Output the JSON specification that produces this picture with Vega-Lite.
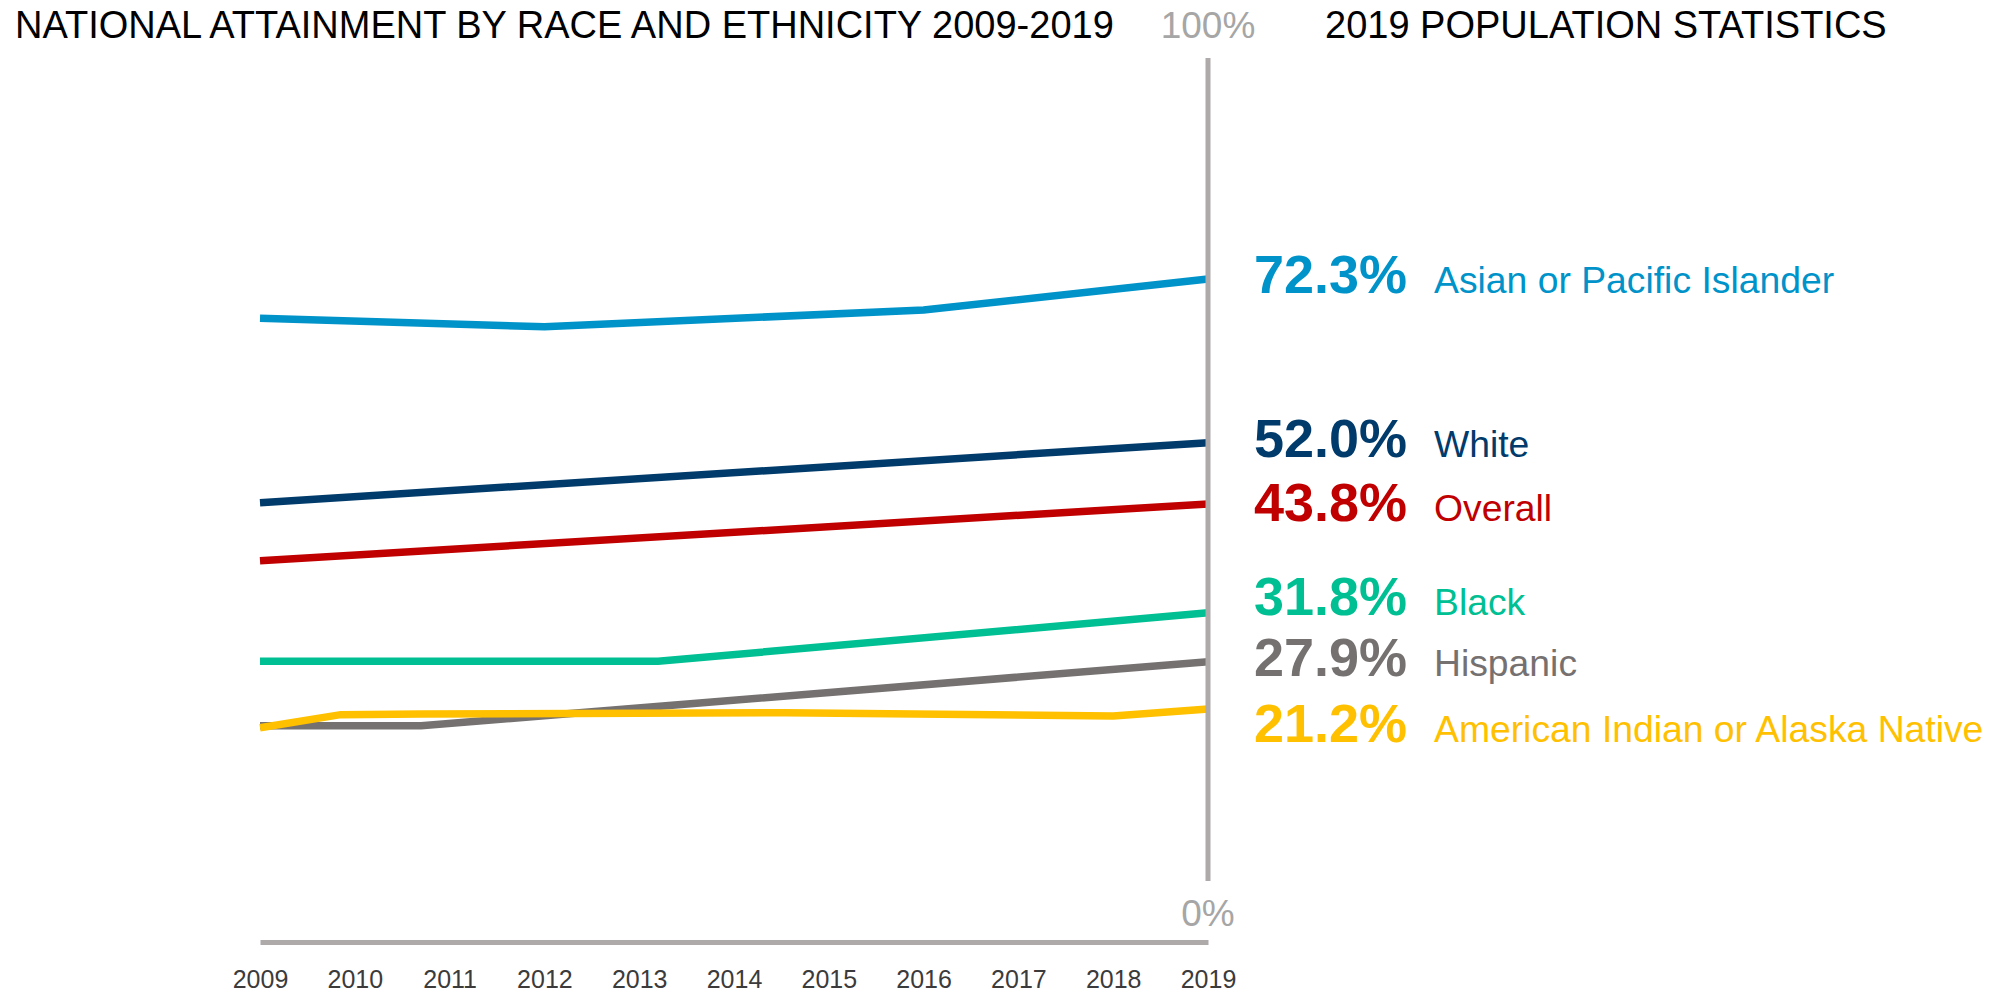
{
  "$schema": "https://vega.github.io/schema/vega-lite/v6.json",
  "width": 948,
  "height": 823,
  "autosize": {"type": "none"},
  "padding": {"left": 260, "top": 58, "right": 789, "bottom": 112},
  "background": "white",
  "config": {
    "view": {"stroke": null},
    "font": "Liberation Sans",
    "axisX": {
      "grid": false, "ticks": false, "tickSize": 0,
      "domainColor": "#AEAAAA", "domainWidth": 5, "offset": 61,
      "labelPadding": 25.5, "labelFontSize": 25, "labelColor": "#3B3B3B",
      "labelFont": "Liberation Sans", "labelFlush": false, "labelOverlap": false
    }
  },
  "datasets": {
    "lines": [
      {"series": "Asian or Pacific Islander", "year": 2009, "pct": 68.37},
      {"series": "Asian or Pacific Islander", "year": 2012, "pct": 67.35},
      {"series": "Asian or Pacific Islander", "year": 2016, "pct": 69.38},
      {"series": "Asian or Pacific Islander", "year": 2019, "pct": 73.15},
      {"series": "White", "year": 2009, "pct": 45.97},
      {"series": "White", "year": 2019, "pct": 53.26},
      {"series": "Overall", "year": 2009, "pct": 38.92},
      {"series": "Overall", "year": 2019, "pct": 45.81},
      {"series": "Black", "year": 2009, "pct": 26.7},
      {"series": "Black", "year": 2013.2, "pct": 26.7},
      {"series": "Black", "year": 2019, "pct": 32.6},
      {"series": "Hispanic", "year": 2009, "pct": 18.87},
      {"series": "Hispanic", "year": 2010.7, "pct": 18.87},
      {"series": "Hispanic", "year": 2019, "pct": 26.65},
      {"series": "American Indian or Alaska Native", "year": 2009, "pct": 18.63},
      {"series": "American Indian or Alaska Native", "year": 2009.85, "pct": 20.21},
      {"series": "American Indian or Alaska Native", "year": 2010.7, "pct": 20.29},
      {"series": "American Indian or Alaska Native", "year": 2014.55, "pct": 20.45},
      {"series": "American Indian or Alaska Native", "year": 2018, "pct": 20.05},
      {"series": "American Indian or Alaska Native", "year": 2019, "pct": 20.9}
    ],
    "labels": [
      {"series": "Asian or Pacific Islander", "stat": "72.3%"},
      {"series": "White", "stat": "52.0%"},
      {"series": "Overall", "stat": "43.8%"},
      {"series": "Black", "stat": "31.8%"},
      {"series": "Hispanic", "stat": "27.9%"},
      {"series": "American Indian or Alaska Native", "stat": "21.2%"}
    ]
  },
  "layer": [
    {
      "data": {"name": "lines"},
      "mark": {"type": "line", "strokeWidth": 7.5, "strokeCap": "butt", "strokeJoin": "miter"},
      "encoding": {
        "x": {
          "field": "year", "type": "quantitative",
          "scale": {"domain": [2009, 2019], "nice": false, "zero": false},
          "axis": {"title": null, "format": "d", "values": [2009, 2010, 2011, 2012, 2013, 2014, 2015, 2016, 2017, 2018, 2019]}
        },
        "y": {"field": "pct", "type": "quantitative", "scale": {"domain": [0, 100], "nice": false, "zero": true}, "axis": null},
        "color": {
          "field": "series", "type": "nominal",
          "scale": {
            "domain": ["Asian or Pacific Islander", "White", "Overall", "Black", "Hispanic", "American Indian or Alaska Native"],
            "range": ["#0093C9", "#003B6B", "#C00000", "#00BF93", "#767171", "#FFC000"]
          },
          "legend": null
        }
      }
    },
    {
      "data": {"values": [{"a": 0, "b": 100}]},
      "mark": {"type": "rule", "color": "#AEAAAA", "strokeWidth": 5},
      "encoding": {
        "x": {"datum": 2019, "type": "quantitative", "axis": {"title": null, "format": "d", "values": [2009, 2010, 2011, 2012, 2013, 2014, 2015, 2016, 2017, 2018, 2019]}},
        "y": {"field": "a", "type": "quantitative", "axis": null},
        "y2": {"field": "b"}
      }
    },
    {
      "data": {"name": "lines"},
      "transform": [
        {"filter": "datum.year == 2019"},
        {"lookup": "series", "from": {"data": {"name": "labels"}, "key": "series", "fields": ["stat"]}},
        {"filter": "datum.series != 'Black' && datum.series != 'American Indian or Alaska Native' && datum.series != 'Overall'"}
      ],
      "layer": [
        {"mark": {"type": "text", "align": "left", "baseline": "alphabetic", "dx": 46, "dy": 14, "fontSize": 54, "fontWeight": "bold", "font": "Liberation Sans"},
         "encoding": {"text": {"field": "stat"}}},
        {"mark": {"type": "text", "align": "left", "baseline": "alphabetic", "dx": 226, "dy": 14, "fontSize": 37.3, "font": "Liberation Sans"},
         "encoding": {"text": {"field": "series"}}}
      ],
      "encoding": {
        "x": {"field": "year", "type": "quantitative", "axis": {"title": null, "format": "d", "values": [2009, 2010, 2011, 2012, 2013, 2014, 2015, 2016, 2017, 2018, 2019]}},
        "y": {"field": "pct", "type": "quantitative", "axis": null},
        "color": {"field": "series", "type": "nominal", "legend": null}
      }
    },
    {
      "data": {"name": "lines"},
      "transform": [
        {"filter": "datum.year == 2019"},
        {"lookup": "series", "from": {"data": {"name": "labels"}, "key": "series", "fields": ["stat"]}},
        {"filter": "datum.series == 'Overall'"}
      ],
      "layer": [
        {"mark": {"type": "text", "align": "left", "baseline": "alphabetic", "dx": 46, "dy": 17.5, "fontSize": 54, "fontWeight": "bold", "font": "Liberation Sans"},
         "encoding": {"text": {"field": "stat"}}},
        {"mark": {"type": "text", "align": "left", "baseline": "alphabetic", "dx": 226, "dy": 17.5, "fontSize": 37.3, "font": "Liberation Sans"},
         "encoding": {"text": {"field": "series"}}}
      ],
      "encoding": {
        "x": {"field": "year", "type": "quantitative", "axis": {"title": null, "format": "d", "values": [2009, 2010, 2011, 2012, 2013, 2014, 2015, 2016, 2017, 2018, 2019]}},
        "y": {"field": "pct", "type": "quantitative", "axis": null},
        "color": {"field": "series", "type": "nominal", "legend": null}
      }
    },
    {
      "data": {"name": "lines"},
      "transform": [
        {"filter": "datum.year == 2019"},
        {"lookup": "series", "from": {"data": {"name": "labels"}, "key": "series", "fields": ["stat"]}},
        {"filter": "datum.series == 'Black'"}
      ],
      "layer": [
        {"mark": {"type": "text", "align": "left", "baseline": "alphabetic", "dx": 46, "dy": 2, "fontSize": 54, "fontWeight": "bold", "font": "Liberation Sans"},
         "encoding": {"text": {"field": "stat"}}},
        {"mark": {"type": "text", "align": "left", "baseline": "alphabetic", "dx": 226, "dy": 2, "fontSize": 37.3, "font": "Liberation Sans"},
         "encoding": {"text": {"field": "series"}}}
      ],
      "encoding": {
        "x": {"field": "year", "type": "quantitative", "axis": {"title": null, "format": "d", "values": [2009, 2010, 2011, 2012, 2013, 2014, 2015, 2016, 2017, 2018, 2019]}},
        "y": {"field": "pct", "type": "quantitative", "axis": null},
        "color": {"field": "series", "type": "nominal", "legend": null}
      }
    },
    {
      "data": {"name": "lines"},
      "transform": [
        {"filter": "datum.year == 2019"},
        {"lookup": "series", "from": {"data": {"name": "labels"}, "key": "series", "fields": ["stat"]}},
        {"filter": "datum.series == 'American Indian or Alaska Native'"}
      ],
      "layer": [
        {"mark": {"type": "text", "align": "left", "baseline": "alphabetic", "dx": 46, "dy": 33.5, "fontSize": 54, "fontWeight": "bold", "font": "Liberation Sans"},
         "encoding": {"text": {"field": "stat"}}},
        {"mark": {"type": "text", "align": "left", "baseline": "alphabetic", "dx": 226, "dy": 33.5, "fontSize": 37.3, "font": "Liberation Sans"},
         "encoding": {"text": {"field": "series"}}}
      ],
      "encoding": {
        "x": {"field": "year", "type": "quantitative", "axis": {"title": null, "format": "d", "values": [2009, 2010, 2011, 2012, 2013, 2014, 2015, 2016, 2017, 2018, 2019]}},
        "y": {"field": "pct", "type": "quantitative", "axis": null},
        "color": {"field": "series", "type": "nominal", "legend": null}
      }
    },
    {
      "data": {"values": [{"t": "NATIONAL ATTAINMENT BY RACE AND ETHNICITY 2009-2019"}]},
      "mark": {"type": "text", "align": "left", "baseline": "alphabetic", "dx": -245, "dy": -20, "fontSize": 38, "color": "#000000", "font": "Liberation Sans"},
      "encoding": {
        "x": {"datum": 2009, "type": "quantitative", "axis": {"title": null, "format": "d", "values": [2009, 2010, 2011, 2012, 2013, 2014, 2015, 2016, 2017, 2018, 2019]}},
        "y": {"datum": 100, "type": "quantitative", "axis": null},
        "text": {"field": "t"}
      }
    },
    {
      "data": {"values": [{"t": "2019 POPULATION STATISTICS"}]},
      "mark": {"type": "text", "align": "left", "baseline": "alphabetic", "dx": 117, "dy": -20, "fontSize": 38, "color": "#000000", "font": "Liberation Sans"},
      "encoding": {
        "x": {"datum": 2019, "type": "quantitative", "axis": {"title": null, "format": "d", "values": [2009, 2010, 2011, 2012, 2013, 2014, 2015, 2016, 2017, 2018, 2019]}},
        "y": {"datum": 100, "type": "quantitative", "axis": null},
        "text": {"field": "t"}
      }
    },
    {
      "data": {"values": [{"t": "100%", "v": 100}]},
      "mark": {"type": "text", "align": "center", "baseline": "alphabetic", "dy": -20, "fontSize": 37, "color": "#A6A6A6", "font": "Liberation Sans"},
      "encoding": {
        "x": {"datum": 2019, "type": "quantitative", "axis": {"title": null, "format": "d", "values": [2009, 2010, 2011, 2012, 2013, 2014, 2015, 2016, 2017, 2018, 2019]}},
        "y": {"field": "v", "type": "quantitative", "axis": null},
        "text": {"field": "t"}
      }
    },
    {
      "data": {"values": [{"t": "0%", "v": 0}]},
      "mark": {"type": "text", "align": "center", "baseline": "alphabetic", "dy": 45, "fontSize": 37, "color": "#A6A6A6", "font": "Liberation Sans"},
      "encoding": {
        "x": {"datum": 2019, "type": "quantitative", "axis": {"title": null, "format": "d", "values": [2009, 2010, 2011, 2012, 2013, 2014, 2015, 2016, 2017, 2018, 2019]}},
        "y": {"field": "v", "type": "quantitative", "axis": null},
        "text": {"field": "t"}
      }
    }
  ]
}
